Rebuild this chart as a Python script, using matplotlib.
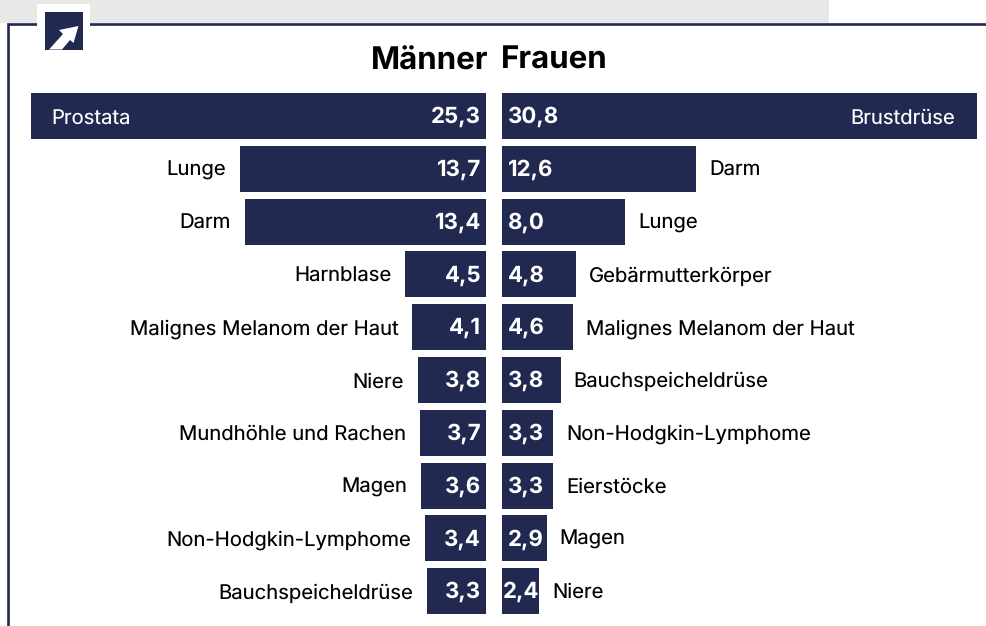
import matplotlib
matplotlib.use('Agg')
import matplotlib.pyplot as plt
import matplotlib.patches as patches
import numpy as np

plt.rcParams['font.family'] = ['Inter', 'Liberation Sans', 'DejaVu Sans']
plt.rcParams['text.hinting'] = 'no_hinting'
plt.rcParams['text.hinting_factor'] = 1

# Data
men_labels = ['Prostata', 'Lunge', 'Darm', 'Harnblase', 'Malignes Melanom der Haut', 'Niere',
              'Mundhöhle und Rachen', 'Magen', 'Non-Hodgkin-Lymphome', 'Bauchspeicheldrüse']
men_values = [25.3, 13.7, 13.4, 4.5, 4.1, 3.8, 3.7, 3.6, 3.4, 3.3]
women_labels = ['Brustdrüse', 'Darm', 'Lunge', 'Gebärmutterkörper', 'Malignes Melanom der Haut',
                'Bauchspeicheldrüse', 'Non-Hodgkin-Lymphome', 'Eierstöcke', 'Magen', 'Niere']
women_values = [30.8, 12.6, 8.0, 4.8, 4.6, 3.8, 3.3, 3.3, 2.9, 2.4]

W, H = 986, 626
NAVY = '#212951'
fig = plt.figure(figsize=(W / 100, H / 100), dpi=100)

# Background layer in pixel coordinates
bg = fig.add_axes([0, 0, 1, 1])
bg.set_xlim(0, W)
bg.set_ylim(H, 0)
bg.axis('off')
bg.add_patch(patches.Rectangle((0, 0), 829, 23, facecolor='#e8e8e8', edgecolor='none'))
bg.plot([8, 8, W], [H, 23.5, 23.5], color=NAVY, lw=1.9, solid_joinstyle='miter')
bg.add_patch(patches.Rectangle((37, 4), 53, 48, facecolor='white', edgecolor='none', zorder=3))
bg.add_patch(patches.Rectangle((45, 12), 38, 37.5, facecolor=NAVY, edgecolor='none', zorder=4))
bg.add_patch(patches.Polygon([(49, 49.5), (62, 49.5), (70, 40), (73.5, 43), (78.5, 26), (59, 30),
                              (63, 34)], facecolor='white', edgecolor='none', zorder=5))
bg.text(488, 61.5, 'Männer', ha='right', va='center', fontsize=22.5, fontweight='bold', color='black')
bg.text(500.5, 60.5, 'Frauen', ha='left', va='center', fontsize=22.5, fontweight='bold', color='black')


def bar_axes(x_left, x_right):
    # axes spanning the ten rows, y=0 centre of top row
    ax = fig.add_axes([x_left / W, (H - 620) / H, (x_right - x_left) / W, (620 - 88) / H])
    ax.patch.set_alpha(0)
    ax.axis('off')
    return ax


pitch = 52.8
top = 116.0
rows = np.arange(10)
ylim = ((620 - top) / pitch, (88 - top) / pitch)

# Men grow to the left from x=486.2, 18 px per unit
ax_m = bar_axes(30.8, 486.2)
ax_m.set_xlim(25.3, 0)
ax_m.set_ylim(*ylim)
ax_m.barh(rows, men_values, height=46 / pitch, color=NAVY)
for i, (lab, val) in enumerate(zip(men_labels, men_values)):
    ax_m.annotate(f'{val:.1f}'.replace('.', ','), (0, i), xytext=(-5, -1), textcoords='offset pixels',
                  ha='right', va='center', color='white', fontsize=16, fontweight='bold')
    if i == 0:
        ax_m.annotate(lab, (val, i), xytext=(21, -3), textcoords='offset pixels',
                      ha='left', va='center', color='white', fontsize=14.6)
    else:
        ax_m.annotate(lab, (val, i), xytext=(-14, -2), textcoords='offset pixels',
                      ha='right', va='center', color='black', fontsize=14.6, annotation_clip=False)

# Women grow to the right from x=502, 15.45 px per unit
ax_f = bar_axes(502, 977)
ax_f.set_xlim(0, 30.8)
ax_f.set_ylim(*ylim)
ax_f.barh(rows, women_values, height=46 / pitch, color=NAVY)
for i, (lab, val) in enumerate(zip(women_labels, women_values)):
    # the shortest bar only just holds its number
    inset = 6 if val > 2.5 else 1
    ax_f.annotate(f'{val:.1f}'.replace('.', ','), (0, i), xytext=(inset, -1), textcoords='offset pixels',
                  ha='left', va='center', color='white', fontsize=16, fontweight='bold')
    if i == 0:
        ax_f.annotate(lab, (val, i), xytext=(-22, -2), textcoords='offset pixels',
                      ha='right', va='center', color='white', fontsize=14.6)
    else:
        ax_f.annotate(lab, (val, i), xytext=(13, -1.5), textcoords='offset pixels',
                      ha='left', va='center', color='black', fontsize=14.6, annotation_clip=False)

fig.savefig('out.png', dpi=100)
plt.close(fig)
